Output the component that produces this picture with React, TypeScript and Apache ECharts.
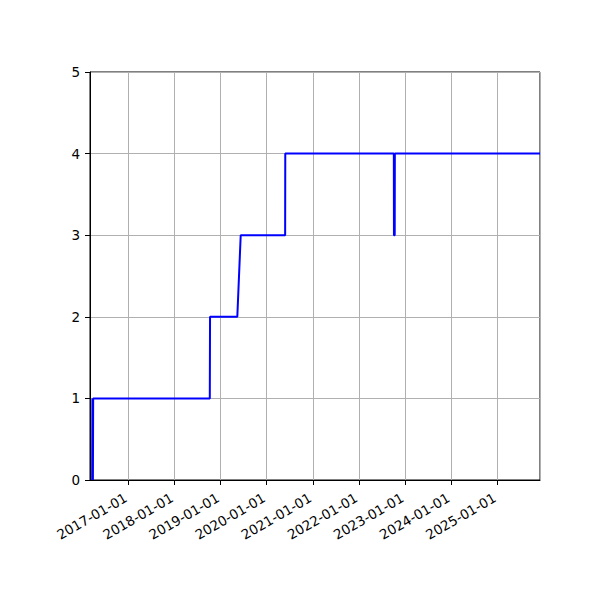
import { useEffect, useRef } from 'react';
import * as echarts from 'echarts';

// change dates and the level reached at each of them
const dates = [
    '2016-03-20', '2016-03-22', '2016-03-26', '2016-03-28',
    '2018-10-08', '2018-10-10',
    '2019-05-14', '2019-06-10',
    '2020-05-27', '2020-05-28',
    '2022-10-05', '2022-10-06', '2022-10-12', '2022-10-13',
    '2025-12-06',
];
const levels = [
    0, 1, 0, 1,
    1, 2,
    2, 3,
    3, 4,
    4, 3, 3, 4,
    4,
];

const xMin = '2016-03-03';
const xMax = '2025-12-06';
const yTicks = [0, 1, 2, 3, 4, 5];

const font = 'DejaVu Sans';

export default function App() {
    const chartRef = useRef<HTMLDivElement>(null);

    useEffect(() => {
        if (!chartRef.current) return;
        document.body.style.margin = '0';

        const chart = echarts.init(chartRef.current, null, { renderer: 'svg' });

        const option = {
            animation: false,
            backgroundColor: '#ffffff',
            grid: {
                left: 90,
                right: 60,
                top: 72,
                bottom: 120,
                show: true,
                borderColor: '#000000',
                borderWidth: 1,
                backgroundColor: 'transparent',
            },
            xAxis: {
                type: 'time',
                min: xMin,
                max: xMax,
                splitNumber: 9,
                axisLine: { show: true, lineStyle: { color: '#000000', width: 1 } },
                axisTick: { show: true, length: 5, lineStyle: { color: '#000000', width: 1 } },
                axisLabel: {
                    formatter: '{yyyy}-{MM}-{dd}',
                    rotate: 30,
                    margin: 15,
                    padding: [0, 3, 0, 0],
                    color: '#000000',
                    fontFamily: font,
                    fontSize: 13.5,
                    showMinLabel: false,
                    showMaxLabel: false,
                    hideOverlap: false,
                },
                splitLine: { show: true, lineStyle: { color: '#b0b0b0', width: 1 } },
            },
            yAxis: {
                type: 'value',
                min: yTicks[0],
                max: yTicks[yTicks.length - 1],
                interval: 1,
                axisLine: { show: true, lineStyle: { color: '#000000', width: 1 } },
                axisTick: { show: true, length: 5, lineStyle: { color: '#000000', width: 1 } },
                axisLabel: {
                    margin: 10,
                    color: '#000000',
                    fontFamily: font,
                    fontSize: 13.5,
                },
                splitLine: { show: true, lineStyle: { color: '#b0b0b0', width: 1 } },
            },
            series: [
                {
                    type: 'line',
                    data: dates.map((d, i) => [d, levels[i]]),
                    showSymbol: false,
                    clip: true,
                    lineStyle: { color: '#0000ff', width: 2 },
                    itemStyle: { color: '#0000ff' },
                },
            ],
        };

        chart.setOption(option);

        return () => {
            chart.dispose();
        };
    }, []);

    return <div ref={chartRef} style={{ width: 600, height: 600 }} />;
}
